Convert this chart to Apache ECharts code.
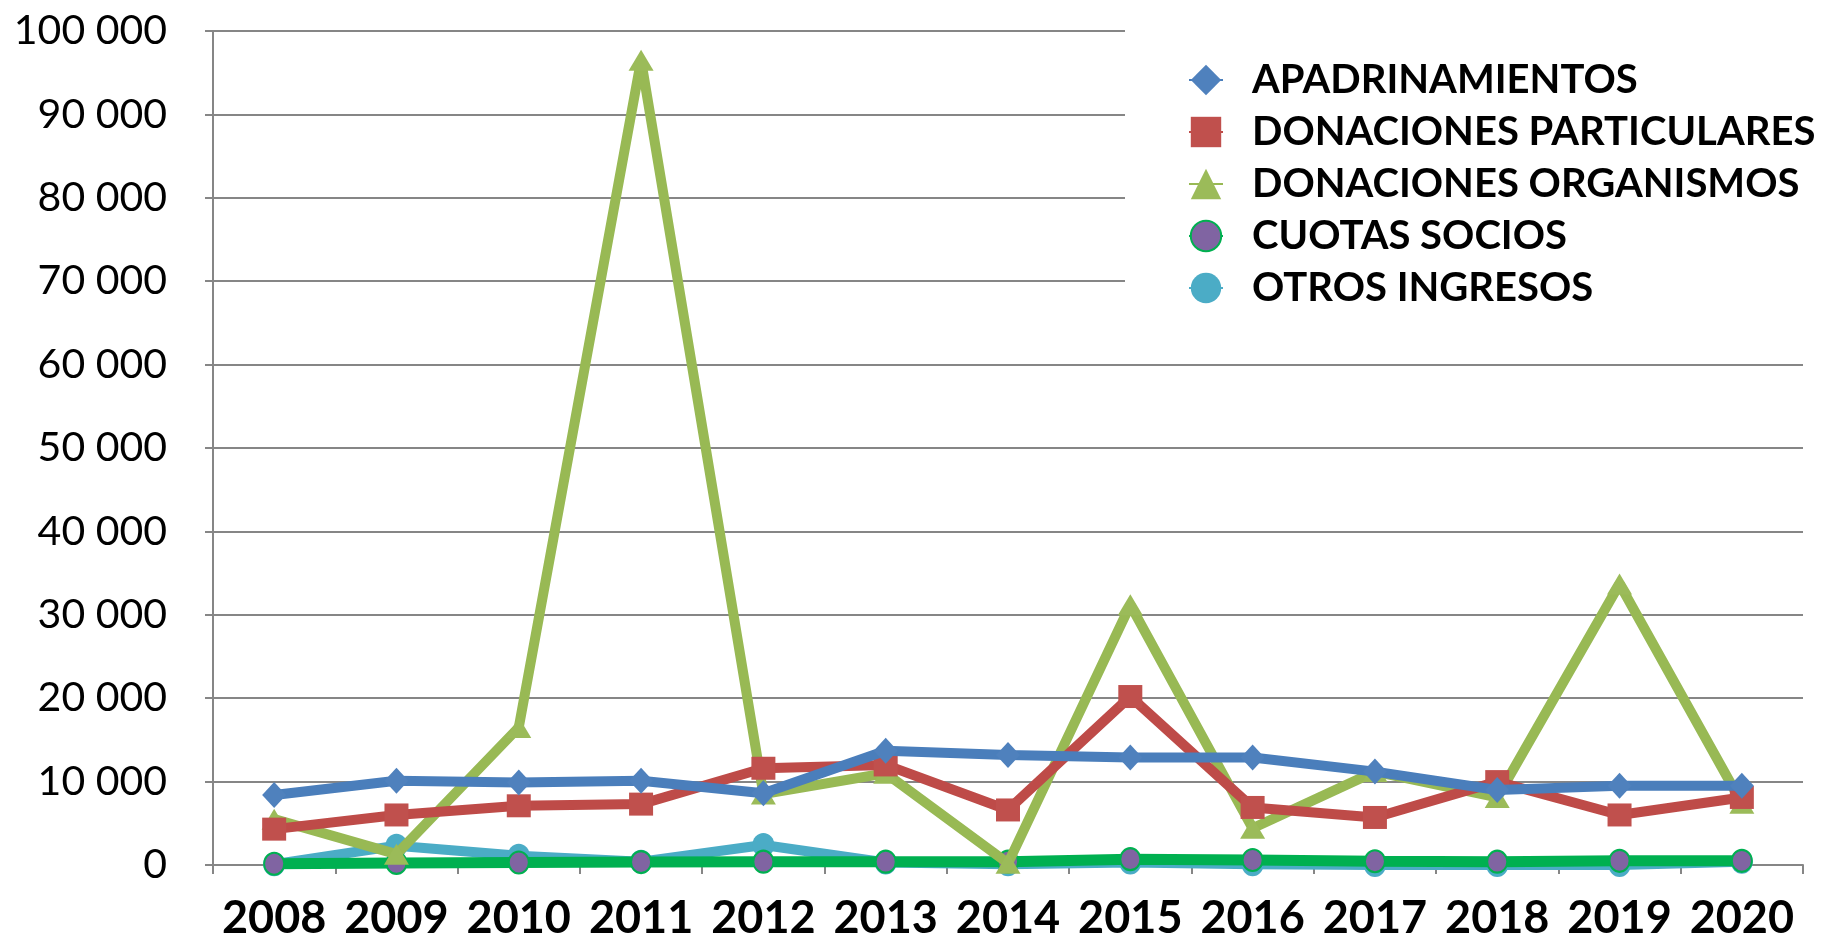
<!DOCTYPE html>
<html>
<head>
<meta charset="utf-8">
<script src="https://cdn.jsdelivr.net/npm/echarts@6/dist/echarts.min.js"></script>
<style>
  html, body { margin: 0; padding: 0; background: #fff; }
  #main { width: 1828px; height: 935px; }
</style>
</head>
<body>
<div id="main"></div>
<script>
  // datos
  var years = ['2008', '2009', '2010', '2011', '2012', '2013', '2014', '2015', '2016', '2017', '2018', '2019', '2020'];
  var apadrinamientos = [8400, 10100, 9900, 10100, 8600, 13700, 13200, 12900, 12900, 11200, 9000, 9500, 9500];
  var donParticulares = [4300, 6000, 7100, 7300, 11600, 12000, 6600, 20200, 6900, 5700, 10000, 6000, 8100];
  var donOrganismos = [5500, 1300, 16500, 96500, 8500, 11000, 200, 31200, 4400, 11200, 8100, 33700, 7400];
  var cuotasSocios = [150, 250, 300, 350, 400, 400, 400, 700, 600, 450, 400, 500, 500];
  var otrosIngresos = [100, 2300, 1100, 400, 2400, 300, 100, 300, 100, 0, 0, 0, 400];
  var yTicks = { min: 0, max: 100000, interval: 10000 };

  var gridColor = '#868686';

  var myChart = echarts.init(document.getElementById('main'));

  myChart.setOption({
    animation: false,
    textStyle: { fontFamily: 'Lato' },
    grid: { left: 213, right: 25, top: 31, bottom: 70, outerBoundsMode: 'none', containLabel: false },
    legend: {
      orient: 'vertical',
      left: 1125,
      top: 0,
      width: 703,
      padding: [60, 0, 22, 63],
      backgroundColor: '#fff',
      itemWidth: 34,
      itemHeight: 38,
      itemGap: 12,
      textStyle: {
        fontFamily: 'Lato',
        fontWeight: 'bold',
        fontSize: 40,
        color: '#000',
        padding: [0, 0, 0, 24]
      },
      data: ['APADRINAMIENTOS', 'DONACIONES PARTICULARES', 'DONACIONES ORGANISMOS', 'CUOTAS SOCIOS', 'OTROS INGRESOS']
    },
    xAxis: {
      type: 'category',
      boundaryGap: true,
      data: years,
      axisLine: { lineStyle: { color: gridColor, width: 2 } },
      axisTick: { show: true, interval: 0, length: 9, lineStyle: { color: gridColor, width: 2 } },
      axisLabel: {
        interval: 0,
        margin: 31,
        fontFamily: 'Lato',
        fontWeight: 'bold',
        fontSize: 45,
        color: '#000'
      }
    },
    yAxis: {
      type: 'value',
      min: yTicks.min,
      max: yTicks.max,
      interval: yTicks.interval,
      axisLine: { show: true, lineStyle: { color: gridColor, width: 2 } },
      axisTick: { show: true, length: 8, lineStyle: { color: gridColor, width: 2 } },
      splitLine: { lineStyle: { color: gridColor, width: 2 } },
      axisLabel: {
        margin: 46,
        fontFamily: 'Lato',
        fontSize: 41,
        color: '#000',
        formatter: function (v) {
          return String(v).replace(/\B(?=(\d{3})+(?!\d))/g, ' ');
        }
      }
    },
    series: [
      {
        name: 'APADRINAMIENTOS',
        type: 'line',
        data: apadrinamientos,
        symbol: 'diamond',
        symbolSize: [24, 26],
        z: 6,
        lineStyle: { color: '#4A7EBB', width: 10 },
        itemStyle: { color: '#4F81BD' }
      },
      {
        name: 'DONACIONES PARTICULARES',
        type: 'line',
        data: donParticulares,
        symbol: 'rect',
        symbolSize: [24, 23],
        z: 5,
        lineStyle: { color: '#BE4B48', width: 10 },
        itemStyle: { color: '#C0504D' }
      },
      {
        name: 'DONACIONES ORGANISMOS',
        type: 'line',
        data: donOrganismos,
        symbol: 'triangle',
        symbolSize: [25, 21],
        z: 4,
        lineStyle: { color: '#98B954', width: 10 },
        itemStyle: { color: '#9BBB59' }
      },
      {
        name: 'CUOTAS SOCIOS',
        type: 'line',
        data: cuotasSocios,
        symbol: 'circle',
        symbolSize: [20, 22],
        z: 3,
        lineStyle: { color: '#00B050', width: 11 },
        itemStyle: { color: '#8064A2', borderColor: '#00B050', borderWidth: 2 }
      },
      {
        name: 'OTROS INGRESOS',
        type: 'line',
        data: otrosIngresos,
        symbol: 'circle',
        symbolSize: [22, 24],
        z: 2,
        lineStyle: { color: '#4BACC6', width: 10 },
        itemStyle: { color: '#4BACC6' }
      }
    ]
  });
</script>
</body>
</html>
